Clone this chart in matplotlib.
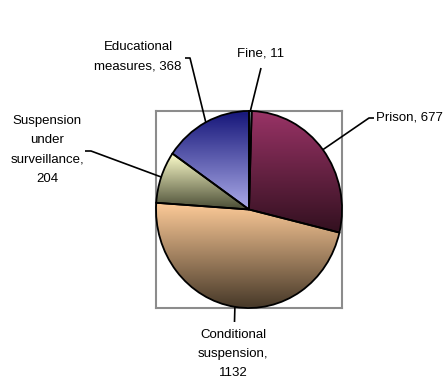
import numpy as np
import matplotlib
matplotlib.use('Agg')
import matplotlib.pyplot as plt
from matplotlib.colors import to_rgb

# ---- data ----
categories = ['Fine', 'Prison', 'Conditional\nsuspension',
              'Suspension\nunder\nsurveillance', 'Educational\nmeasures']
values = [11, 677, 1132, 204, 368]
value_sep = [' ', ' ', '\n', '\n', ' ']

# ---- styles ----
top_colors = ['#CCFFFF', '#993366', '#FFCC99', '#FFFFCC', '#141478']
bottom_colors = ['#5A7878', '#32101F', '#463828', '#4B4E36', '#ABABE8']

W, H, DPI = 445, 383, 100
fig = plt.figure(figsize=(W / DPI, H / DPI), dpi=DPI)
fig.patch.set_facecolor('white')

# plot area box (pixels)
bx0, bx1, by0, by1 = 156, 342, 111, 308
ax = fig.add_axes([bx0 / W, (H - by1) / H, (bx1 - bx0) / W, (by1 - by0) / H])

cx, cy = (bx0 + bx1) / 2, (by0 + by1) / 2
rx, ry = (bx1 - bx0) / 2, (by1 - by0) / 2


def px(x, y):
    return ((x - cx) / rx, (cy - y) / ry)


wedges, _ = ax.pie(values, startangle=90, counterclock=False, radius=1,
                   frame=True,
                   wedgeprops=dict(facecolor='none', edgecolor='black',
                                   linewidth=1.3, zorder=3))
ax.set_aspect('auto')
ax.set_xlim(-1, 1)
ax.set_ylim(-1, 1)
ax.set_xticks([])
ax.set_yticks([])
for s in ax.spines.values():
    s.set_edgecolor('#8c8c8c')
    s.set_linewidth(1.5)

# gradient fills per wedge
for w, tc, bc in zip(wedges, top_colors, bottom_colors):
    ext = w.get_path().get_extents()
    t = np.linspace(0, 1, 256)[:, None]
    c0, c1 = np.array(to_rgb(tc)), np.array(to_rgb(bc))
    img = (c0[None, :] * (1 - t) + c1[None, :] * t)[:, None, :]
    im = ax.imshow(img, extent=[ext.x0, ext.x1, ext.y0, ext.y1],
                   origin='upper', aspect='auto', interpolation='bilinear',
                   zorder=2)
    im.set_clip_path(w)
ax.set_xlim(-1, 1)
ax.set_ylim(-1, 1)

# labels with leader lines
text_pos = [(261, 54), (376, 117), (233, 354), (47, 150), (138, 57)]
text_ha = ['center', 'left', 'center', 'center', 'center']
elbows = [[(261, 68), (259.5, 74)],
          [(374, 118), (369, 118)],
          [(234.5, 322)],
          [(85, 151), (91, 151)],
          [(185, 58), (190, 58)]]

for w, cat, val, sep, tp, ha, el in zip(wedges, categories, values, value_sep,
                                         text_pos, text_ha, elbows):
    mid = np.deg2rad((w.theta1 + w.theta2) / 2)
    ax_pt = (np.cos(mid), np.sin(mid))
    pts = [px(*p) for p in el] + [ax_pt]
    xs, ys = zip(*pts)
    ax.plot(xs, ys, color='black', lw=1.2, clip_on=False, zorder=4,
            solid_capstyle='butt')
    tx, ty = px(*tp)
    ax.text(tx, ty, f"{cat},{sep}{val}", ha=ha, va='center',
            multialignment='center', fontsize=9.5,
            family=['Liberation Sans', 'DejaVu Sans'],
            linespacing=1.8, clip_on=False)

fig.savefig('out.png', dpi=DPI, facecolor='white')
